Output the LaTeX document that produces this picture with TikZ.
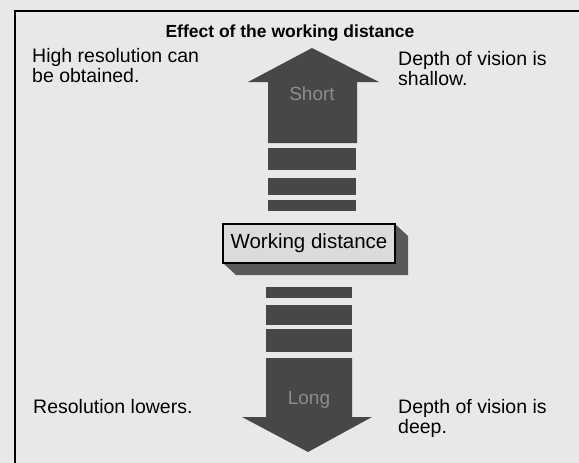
\documentclass[tikz,border=0pt]{standalone}
\usepackage{fontspec}
\setmainfont{Liberation Sans}
\begin{document}
\begin{tikzpicture}[x=1pt,y=-1pt,
  txt/.style={font=\fontsize{19.5}{20}\selectfont, align=left, inner sep=0pt, text=black},
  dark/.style={fill=black!72, draw=none},
  ghost/.style={font=\fontsize{19}{20}\selectfont, text=black!45, inner sep=0pt}]
\useasboundingbox (0,0) rectangle (579,463);
\fill[black!9] (0,0) rectangle (579,463);
% frame (top and left edges visible)
\draw[line width=1.6pt] (15,463) -- (15,11) -- (579,11);
% title
\node[txt, font=\bfseries\fontsize{17.5}{20}\selectfont] (title) at (290,33) {Effect of the working distance};
% up arrow
\fill[dark] (268,143) -- (268,82) -- (248,82) -- (312,48) -- (379,82) -- (357,82) -- (357,143) -- cycle;
\node[ghost] (short) at (312,94) {Short};
% upper bars
\fill[dark] (268,148) rectangle (356,170);
\fill[dark] (268,178) rectangle (356,195);
\fill[dark] (268,200) rectangle (356,211);
% working distance box
\fill[black!65] (395,224) -- (408,236) -- (408,275) -- (236,275) -- (223,263) -- (395,263) -- cycle;
\node[draw=black, line width=1.2pt, fill=black!14, minimum width=172pt, minimum height=39pt, inner sep=0pt, font=\fontsize{20.5}{20}\selectfont] (wd) at (309,243.5) {Working distance};
% lower bars
\fill[dark] (266,287) rectangle (352,298);
\fill[dark] (266,305) rectangle (352,325);
\fill[dark] (266,329) rectangle (352,352);
% down arrow
\fill[dark] (266,358) -- (352,358) -- (352,417) -- (372,417) -- (308,452) -- (242,417) -- (266,417) -- cycle;
\node[ghost] (long) at (309,400) {Long};
% side texts
\node[txt, anchor=north west] (hr) at (32,48) {High resolution can\\be obtained.};
\node[txt, anchor=north west] (ds) at (398,51) {Depth of vision is\\shallow.};
\node[txt, anchor=west] (rl) at (33,407) {Resolution lowers.};
\node[txt, anchor=north west] (dd) at (398,399) {Depth of vision is\\deep.};
\end{tikzpicture}
\end{document}
